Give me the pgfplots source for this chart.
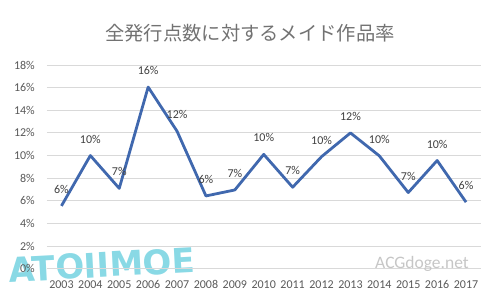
\documentclass[border=0pt]{standalone}
\usepackage{pgfplots}
\pgfplotsset{compat=1.18}
\usepackage{fontspec}
\setmainfont{Carlito}
\newfontfamily\cjk{Noto Sans CJK JP}
\newfontfamily\logofont{DejaVu Sans}
\definecolor{lineblue}{HTML}{4068AE}
\definecolor{gridgray}{HTML}{D9D9D9}
\definecolor{ticktext}{HTML}{595959}
\definecolor{labeltext}{HTML}{404040}
\definecolor{logocyan}{HTML}{62CCDC}
\begin{document}
\begin{tikzpicture}
\path[use as bounding box] (0,0) rectangle (500pt,301pt);
\node[text=logocyan, opacity=0.75, font=\logofont\bfseries\fontsize{34}{38}\selectfont, anchor=center, rotate=3] at (102pt,36pt) {ATOIIMOE};
\node[text=ticktext!85!white, font=\cjk\fontsize{19.3}{23}\selectfont, anchor=center] at (250pt,268pt) {全発行点数に対するメイド作品率};
\begin{axis}[
  at={(47pt,32.3pt)}, anchor=south west,
  scale only axis, width=433.5pt, height=203.7pt,
  xmin=2002.5, xmax=2017.5, ymin=0, ymax=18,
  axis line style={draw=none},
  tick style={draw=none},
  ymajorgrids, major grid style={gridgray, line width=1pt},
  ytick={0,2,...,18},
  yticklabels={0\%,2\%,4\%,6\%,8\%,10\%,12\%,14\%,16\%,18\%},
  xtick={2003,...,2017},
  xticklabels={2003,2004,2005,2006,2007,2008,2009,2010,2011,2012,2013,2014,2015,2016,2017},
  ticklabel style={font=\fontsize{12}{14}\selectfont, text=ticktext, inner sep=0pt},
  yticklabel style={anchor=east, xshift=-12pt},
  xticklabel style={anchor=north, yshift=-11.5pt},
  clip=false,
]
\addplot[lineblue, line width=2.8pt, line join=round,
  nodes near coords={\pgfplotspointmeta}, point meta=explicit symbolic,
  every node near coord/.style={font=\fontsize{12}{14}\selectfont, text=labeltext, anchor=south, inner sep=0pt, yshift=11pt}]
coordinates {
(2003,5.55) [6\%]
(2004,10.0) [10\%]
(2005,7.1) [7\%]
(2006,16.05) [16\%]
(2007,12.15) [12\%]
(2008,6.43) [6\%]
(2009,6.96) [7\%]
(2010,10.1) [10\%]
(2011,7.2) [7\%]
(2012,9.9) [10\%]
(2013,12.0) [12\%]
(2014,9.97) [10\%]
(2015,6.73) [7\%]
(2016,9.56) [10\%]
(2017,5.88) [6\%]
};
\end{axis}
\node[text=gray!45, font=\fontsize{17.5}{20}\selectfont, anchor=center] at (422pt,37pt) {ACGdoge.net};
\end{tikzpicture}
\end{document}
